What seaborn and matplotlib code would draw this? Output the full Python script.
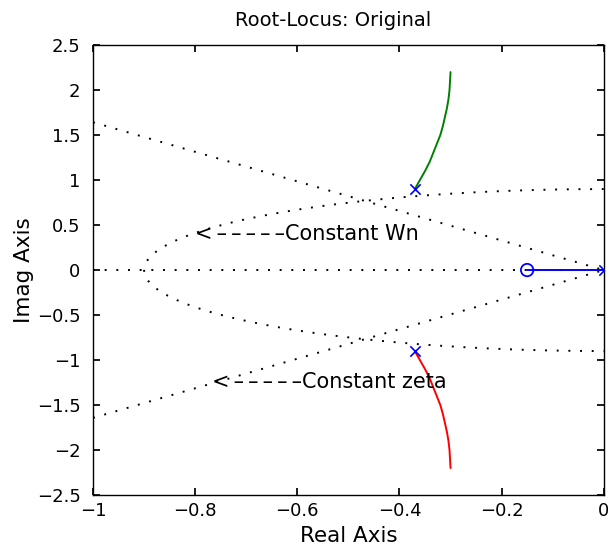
import matplotlib
matplotlib.use("Agg")
import matplotlib.pyplot as plt
import numpy as np
import pandas as pd
import seaborn as sns

# root locus branches
upper_re = [-0.370, -0.360, -0.350, -0.341, -0.334, -0.327, -0.320,
            -0.315, -0.311, -0.307, -0.304, -0.302, -0.301, -0.300]
upper_im = [0.90, 1.00, 1.10, 1.20, 1.30, 1.40, 1.50,
            1.60, 1.70, 1.80, 1.90, 2.00, 2.10, 2.20]
lower_re = upper_re
lower_im = [-v for v in upper_im]
real_re = [-0.15, 0.0]
real_im = [0.0, 0.0]

pole_re = [-0.37, -0.37, 0.0]
pole_im = [0.90, -0.90, 0.0]
zero_re = [-0.15]
zero_im = [0.0]

# sgrid overlay: one damping ratio and one natural frequency
zeta = 0.52
wn = 0.90

x_ticks = [-1, -0.8, -0.6, -0.4, -0.2, 0]
y_ticks = [-2.5, -2, -1.5, -1, -0.5, 0, 0.5, 1, 1.5, 2, 2.5]

sns.set_theme(style="ticks")
plt.rcParams["font.family"] = ["DejaVu Sans"]
plt.rcParams["font.size"] = 12
plt.rcParams["text.color"] = "black"
plt.rcParams["axes.labelcolor"] = "black"
plt.rcParams["xtick.color"] = "black"
plt.rcParams["ytick.color"] = "black"

fig = plt.figure(figsize=(6.08, 5.5), dpi=100)
ax = fig.add_axes([0.153, 0.10, 0.840, 0.818])

dot = dict(color="black", linewidth=1.4, linestyle=(0, (1, 5)))

# constant zeta lines
slope = np.sqrt(1 - zeta ** 2) / zeta
zl = pd.DataFrame({"re": [-1.0, 0.0], "im": [slope, 0.0]})
ax.plot(zl["re"], zl["im"], **dot)
ax.plot(zl["re"], -zl["im"], **dot)
ax.plot([-1.0, 0.0], [0.0, 0.0], **dot)

# constant wn circle
th = np.linspace(np.pi / 2, 3 * np.pi / 2, 200)
ax.plot(wn * np.cos(th), wn * np.sin(th), **dot)

sns.lineplot(x=upper_re, y=upper_im, sort=False, color="#008000", linewidth=1.4, ax=ax)
sns.lineplot(x=lower_re, y=lower_im, sort=False, color="#ff0000", linewidth=1.4, ax=ax)
sns.lineplot(x=real_re, y=real_im, sort=False, color="#0000ff", linewidth=1.4, ax=ax)

ax.scatter(pole_re, pole_im, marker="x", s=55, color="#0000ff", linewidths=1.2, zorder=5)
ax.scatter(zero_re, zero_im, marker="o", s=80, facecolors="none", edgecolors="#0000ff",
           linewidths=1.3, zorder=5)

arrow = "<" + "\u2009\u2013" * 5
ax.text(-0.80, 0.40, arrow + "Constant Wn", ha="left", va="center", fontsize=15)
ax.text(-0.767, -1.24, arrow + "Constant zeta", ha="left", va="center", fontsize=15)

ax.set_xlim(-1, 0)
ax.set_ylim(-2.5, 2.5)
ax.set_xticks(x_ticks)
ax.set_xticklabels(["\u22121", "\u22120.8", "\u22120.6", "\u22120.4", "\u22120.2", "0"])
ax.set_yticks(y_ticks)
ax.set_yticklabels([("\u2212" + str(abs(v)) if v < 0 else str(v)) for v in y_ticks])
ax.tick_params(direction="in", top=True, right=True, length=5, labelsize=13)
ax.tick_params(axis="y", pad=9)
ax.tick_params(axis="x", pad=5)
for s in ax.spines.values():
    s.set_linewidth(1.0)
    s.set_color("black")

ax.set_title("Root-Locus: Original", fontsize=14, pad=14, x=0.47)
ax.set_xlabel("Real Axis", fontsize=15.5, labelpad=4)
ax.set_ylabel("Imag Axis", fontsize=15.5, labelpad=2)

fig.savefig("out.png", dpi=100)
